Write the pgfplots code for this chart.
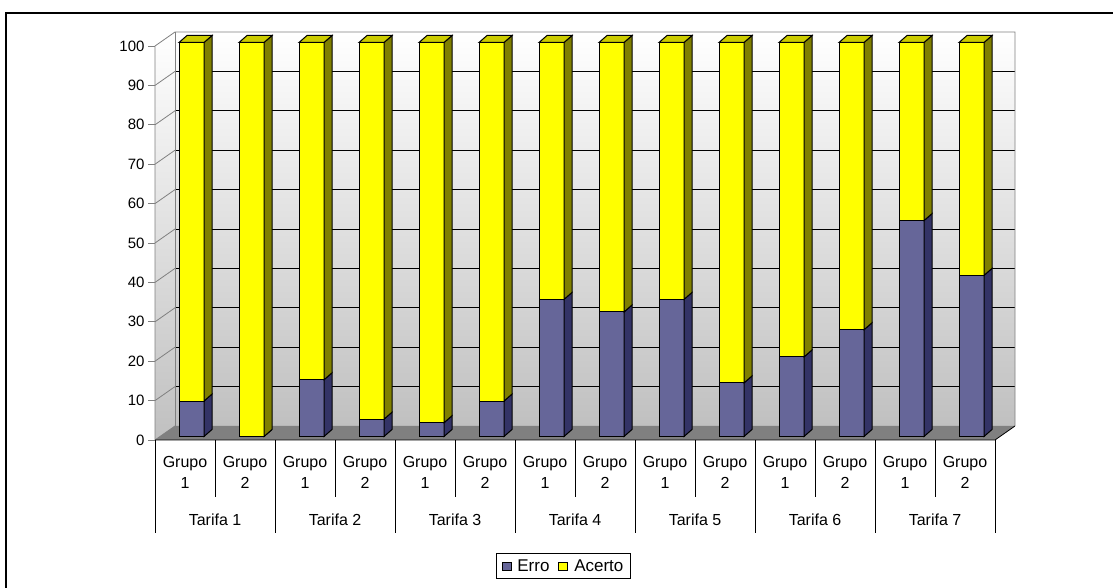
\documentclass[border=0pt]{standalone}
\usepackage{fontspec}
\setmainfont{Liberation Sans}
\usepackage{pgfplots}
\usepackage{pgfplotstable}
\pgfplotsset{compat=1.18}

\definecolor{erroF}{RGB}{102,102,153}
\definecolor{erroS}{RGB}{51,51,102}
\definecolor{acF}{RGB}{255,255,0}
\definecolor{acS}{RGB}{128,128,0}
\definecolor{acT}{RGB}{204,204,0}
\definecolor{floorC}{RGB}{128,128,128}
\definecolor{wallB}{RGB}{192,192,192}

\pgfdeclareplotmark{nothing}{}

% one 3D bar segment: origin is the top of the segment
% #1 height (data units), #2 front colour, #3 side colour, #4 top face (1/0)
\newcommand\barbox[4]{%
  \pgfmathsetmacro\yb{3.5-#1*3.94}%
  \pgfmathsetmacro\yc{\yb+7}%
  \draw[black,line width=1pt,fill=#2] (-6pt,\yb pt) rectangle (19pt,3.5pt);
  \draw[black,line width=1pt,fill=#3] (19pt,\yb pt) -- (27pt,\yc pt) -- (27pt,10.5pt) -- (19pt,3.5pt) -- cycle;
  \ifnum#4=1
    \draw[black,line width=1pt,fill=acT] (-6pt,3.5pt) -- (2pt,10.5pt) -- (27pt,10.5pt) -- (19pt,3.5pt) -- cycle;
  \fi
}

\newcommand\lblfont{\fontsize{16}{21}\selectfont}
\newcommand\legfont{\fontsize{17}{20}\selectfont}
\newcommand\tickfont{\fontsize{15}{18}\selectfont}

\pgfplotstableread{
x erro acerto top
0 9.0 91.0 100
1 0.0 100.0 100
2 14.4 85.6 100
3 4.4 95.6 100
4 3.5 96.5 100
5 9.0 91.0 100
6 34.8 65.2 100
7 31.6 68.4 100
8 34.8 65.2 100
9 13.6 86.4 100
10 20.2 79.8 100
11 27.1 72.9 100
12 54.8 45.2 100
13 40.9 59.1 100
}\datatable

\begin{document}
\begin{tikzpicture}[x=1pt,y=1pt]
\useasboundingbox (0,0) rectangle (1113,588);
\draw[line width=1.5pt] (6,0) -- (6,575) -- (1113,575);
\begin{axis}[
  at={(155pt,148pt)}, anchor=south west,
  scale only axis, width=840pt, height=394pt,
  xmin=-0.5, xmax=13.5, ymin=0, ymax=100,
  clip=false,
  axis line style={draw=none},
  xtick=\empty,
  ytick={0,10,...,100},
  ytick pos=left,
  tick align=outside,
  major tick length=7pt,
  ytick style={draw=gray, line width=0.8pt},
  yticklabel style={font=\tickfont},
  /pgf/number format/assume math mode=true,
  legend columns=2,
  legend style={at={(0.4863,-0.3198)}, anchor=center, draw=black,
    line width=0.8pt, font=\legfont, nodes={font=\legfont},
    inner xsep=5pt, inner ysep=3.5pt,
    /tikz/every odd column/.append style={column sep=4pt},
    /tikz/every even column/.append style={column sep=7pt}},
]
% back wall and left wall
\shade[top color=white, bottom color=wallB] ([shift={(20pt,14pt)}]axis cs:-0.5,0) rectangle ([shift={(20pt,14pt)}]axis cs:13.5,100);
\shade[top color=white, bottom color=wallB] (axis cs:-0.5,0) -- ([shift={(20pt,14pt)}]axis cs:-0.5,0) -- ([shift={(20pt,14pt)}]axis cs:-0.5,100) -- (axis cs:-0.5,100) -- cycle;
% grid lines
\pgfplotsinvokeforeach{10,20,...,90}{
  \draw[black, line width=0.7pt] ([shift={(20pt,14pt)}]axis cs:-0.5,#1) -- ([shift={(20pt,14pt)}]axis cs:13.5,#1);
  \draw[gray, line width=0.8pt] (axis cs:-0.5,#1) -- ([shift={(20pt,14pt)}]axis cs:-0.5,#1);
}
\draw[gray, line width=0.8pt] (axis cs:-0.5,0) -- (axis cs:-0.5,100) -- ([shift={(20pt,14pt)}]axis cs:-0.5,100) -- ([shift={(20pt,14pt)}]axis cs:13.5,100) -- ([shift={(20pt,14pt)}]axis cs:13.5,0);
\draw[gray, line width=0.8pt] ([shift={(20pt,14pt)}]axis cs:-0.5,0) -- ([shift={(20pt,14pt)}]axis cs:-0.5,100);
% floor
\fill[floorC] (axis cs:-0.5,0) -- (axis cs:13.5,0) -- ([shift={(20pt,14pt)}]axis cs:13.5,0) -- ([shift={(20pt,14pt)}]axis cs:-0.5,0) -- cycle;
\draw[gray, line width=0.8pt] (axis cs:-0.5,0) -- ([shift={(20pt,14pt)}]axis cs:-0.5,0);
\draw[black, line width=0.8pt] (axis cs:-0.5,0) -- (axis cs:13.5,0) -- ([shift={(20pt,14pt)}]axis cs:13.5,0);
% category separators and labels
\pgfplotsinvokeforeach{0,...,6}{
  \draw[black, line width=0.8pt] (axis cs:{2*#1+0.5},0) -- ++(0pt,-57pt);
  \draw[black, line width=0.8pt] (axis cs:{2*#1-0.5},0) -- ++(0pt,-93pt);
  \node[font=\lblfont, align=center] at ([yshift=-32.5pt]axis cs:{2*#1},0) {Grupo\\1};
  \node[font=\lblfont, align=center] at ([yshift=-32.5pt]axis cs:{2*#1+1},0) {Grupo\\2};
  \node[font=\lblfont] at ([yshift=-80pt]axis cs:{2*#1+0.5},0) {Tarifa \number\numexpr#1+1\relax};
}
\draw[black, line width=0.8pt] (axis cs:13.5,0) -- ++(0pt,-93pt);

\addplot[scatter, only marks, mark=nothing, point meta=explicit symbolic,
  scatter/@pre marker code/.code={\barbox{\pgfplotspointmeta}{erroF}{erroS}{0}},
  scatter/@post marker code/.code={},
  legend image code/.code={\draw[black,line width=0.8pt,fill=erroF] (0pt,-4pt) rectangle (9pt,4pt);}]
  table[x=x, y=erro, meta=erro] {\datatable};
\addlegendentry{Erro}
\addplot[scatter, only marks, mark=nothing, point meta=explicit symbolic,
  scatter/@pre marker code/.code={\barbox{\pgfplotspointmeta}{acF}{acS}{1}},
  scatter/@post marker code/.code={},
  legend image code/.code={\draw[black,line width=0.8pt,fill=acF] (0pt,-4pt) rectangle (9pt,4pt);}]
  table[x=x, y=top, meta=acerto] {\datatable};
\addlegendentry{Acerto}
\end{axis}
\end{tikzpicture}
\end{document}
